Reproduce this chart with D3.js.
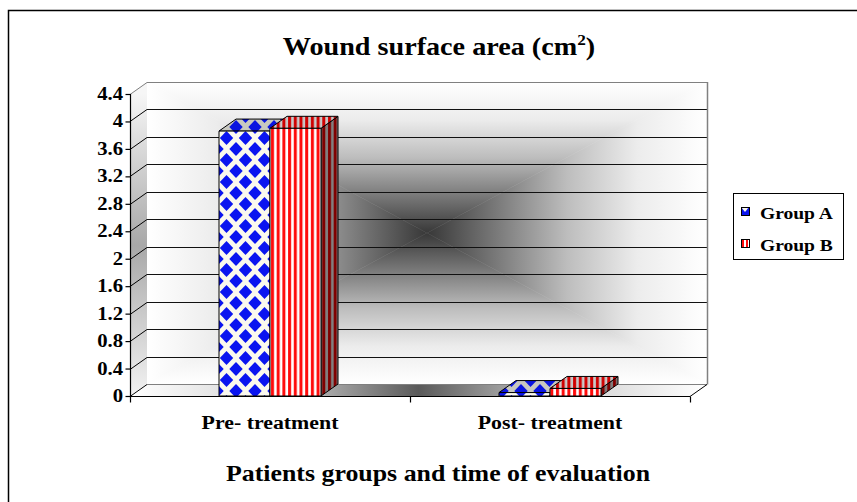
<!DOCTYPE html>
<html lang="en">
<head>
    <meta charset="UTF-8">
    <title>Wound surface area</title>
    <script src="https://d3js.org/d3.v7.min.js"></script>
    <style>
        body { margin: 0; background: #fff; }
        text {
            font-family: "Liberation Serif", "Times New Roman", serif;
            font-weight: bold;
            fill: #000;
        }
    </style>
</head>
<body>
<svg id="chart" width="857" height="502"></svg>

<script>
    // chart data
    const categories = ["Pre- treatment", "Post- treatment"];
    const groups = ["Group A", "Group B"];
    const groupA = [3.86, 0.05];
    const groupB = [3.9, 0.11];
    const yTickValues = [0, 0.4, 0.8, 1.2, 1.6, 2, 2.4, 2.8, 3.2, 3.6, 4, 4.4];
    const yTickLabels = ["0", "0.4", "0.8", "1.2", "1.6", "2", "2.4", "2.8", "3.2", "3.6", "4", "4.4"];

    const svg = d3.select("#chart");
    const defs = svg.append("defs");

    // plot geometry (front plane + depth offset)
    const pLeft = 130, pRight = 690, pBottom = 396, pTop = 94;
    const dx = 17, dy = -12;
    const stretch = 1.15; // text in the original is a bit widened

    const y = d3.scaleLinear().domain([0, 4.4]).range([pBottom, pTop]);
    const x = d3.scaleBand().domain(categories).range([pLeft, pRight]);
    const xg = d3.scaleBand().domain(groups).range([0, 102]);
    const groupOffset = (x.bandwidth() - 102) / 2;

    // outer frame
    svg.append("rect")
        .attr("x", 8.5).attr("y", 10.5)
        .attr("width", 880).attr("height", 520)
        .attr("fill", "#fff").attr("stroke", "#000").attr("stroke-width", 1.5);

    // ---------- gradients ----------
    function linGrad(id, x1, y1, x2, y2, stops) {
        const g = defs.append("linearGradient").attr("id", id)
            .attr("gradientUnits", "userSpaceOnUse")
            .attr("x1", x1).attr("y1", y1).attr("x2", x2).attr("y2", y2);
        stops.forEach(s => g.append("stop").attr("offset", s[0]).attr("stop-color", s[1]));
    }
    const wallStops = [[0, "#383838"], [0.25, "#7a7a7a"], [0.5, "#bdbdbd"], [0.75, "#ececec"], [1, "#ffffff"]];

    // back wall corners
    const bx0 = pLeft + dx, bx1 = pRight + dx, by0 = pTop + dy, by1 = pBottom + dy;
    const cx = (bx0 + bx1) / 2, cy = (by0 + by1) / 2;

    linGrad("gTop", cx, cy, cx, by0, wallStops);
    linGrad("gBot", cx, cy, cx, by1, wallStops);
    linGrad("gLeft", cx, cy, bx0, cy, wallStops);
    linGrad("gRight", cx, cy, bx1, cy, wallStops);

    const wall = svg.append("g");
    const tri = (pts, fill) => wall.append("polygon")
        .attr("points", pts.map(p => p.join(",")).join(" "))
        .attr("fill", fill).attr("stroke", fill).attr("stroke-width", 0.5);
    tri([[bx0, by0], [bx1, by0], [cx, cy]], "url(#gTop)");
    tri([[bx0, by1], [bx1, by1], [cx, cy]], "url(#gBot)");
    tri([[bx0, by0], [bx0, by1], [cx, cy]], "url(#gLeft)");
    tri([[bx1, by0], [bx1, by1], [cx, cy]], "url(#gRight)");

    // left wall
    linGrad("gSide", 0, pTop, 0, pBottom, [[0, "#f6f6f6"], [0.5, "#a8a8a8"], [1, "#f2f2f2"]]);
    svg.append("polygon")
        .attr("points", [[pLeft, pTop], [bx0, by0], [bx0, by1], [pLeft, pBottom]].map(p => p.join(",")).join(" "))
        .attr("fill", "url(#gSide)");

    // floor
    linGrad("gFloor", pLeft, 0, pRight + dx, 0,
        [[0, "#ffffff"], [0.25, "#d4d4d4"], [0.5, "#5a5a5a"], [0.75, "#cfcfcf"], [1, "#ffffff"]]);
    svg.append("polygon")
        .attr("points", [[pLeft, pBottom], [pRight, pBottom], [bx1, by1], [bx0, by1]].map(p => p.join(",")).join(" "))
        .attr("fill", "url(#gFloor)");

    // gridlines
    const grid = svg.append("g").attr("stroke-width", 1).attr("fill", "none");
    yTickValues.forEach(v => {
        const yy = Math.round(y(v)) + 0.5;
        grid.append("line")
            .attr("x1", pLeft).attr("y1", yy).attr("x2", bx0).attr("y2", yy + dy)
            .attr("stroke", v === 4.4 ? "#808080" : "#000");
        grid.append("line")
            .attr("x1", bx0).attr("y1", yy + dy).attr("x2", bx1).attr("y2", yy + dy)
            .attr("stroke", (v === 4.4 || v === 0) ? "#808080" : "#111");
    });
    // back wall right border
    grid.append("line")
        .attr("x1", bx1 + 0.5).attr("y1", Math.round(y(4.4)) + dy)
        .attr("x2", bx1 + 0.5).attr("y2", Math.round(y(0)) + dy + 0.5)
        .attr("stroke", "#808080").attr("stroke-width", 1.5);
    // floor front and right edge
    grid.append("line")
        .attr("x1", pLeft).attr("y1", pBottom + 0.5).attr("x2", pRight).attr("y2", pBottom + 0.5)
        .attr("stroke", "#000");
    grid.append("line")
        .attr("x1", pRight).attr("y1", pBottom + 0.5).attr("x2", bx1).attr("y2", by1 + 0.5)
        .attr("stroke", "#000");

    // ---------- patterns ----------
    function diamondPattern(id, bg, fg, ox, oy) {
        const p = defs.append("pattern").attr("id", id)
            .attr("patternUnits", "userSpaceOnUse")
            .attr("x", ox).attr("y", oy).attr("width", 19).attr("height", 22);
        p.append("rect").attr("width", 19).attr("height", 22).attr("fill", bg);
        const d = (px, py) => p.append("polygon")
            .attr("points", `${px},${py - 7} ${px + 6.7},${py} ${px},${py + 7} ${px - 6.7},${py}`)
            .attr("fill", fg);
        d(9.5, 11); d(0, 0); d(19, 0); d(0, 22); d(19, 22);
    }
    function stripePattern(id, bg, fg, ox) {
        const p = defs.append("pattern").attr("id", id)
            .attr("patternUnits", "userSpaceOnUse")
            .attr("x", ox).attr("y", 0).attr("width", 5.7).attr("height", 10);
        p.append("rect").attr("width", 5.7).attr("height", 10).attr("fill", bg);
        p.append("rect").attr("x", 1).attr("width", 3).attr("height", 10).attr("fill", fg);
    }
    diamondPattern("pA", "#fbf9ee", "#0a14f0", 217, 127);
    diamondPattern("pAtop", "#c8c8c0", "#0a14e0", 217, 127);
    diamondPattern("pAside", "#7c7c7c", "#0a0a80", 217, 127);
    stripePattern("pB", "#ffffff", "#ff0a0a", 270);
    stripePattern("pBtop", "#c8c8c8", "#d00000", 270);
    stripePattern("pBside", "#808080", "#800000", 270);

    const fills = {
        "Group A": { front: "url(#pA)", top: "url(#pAtop)", side: "url(#pAside)" },
        "Group B": { front: "url(#pB)", top: "url(#pBtop)", side: "url(#pBside)" }
    };

    // ---------- bars ----------
    const series = [
        { name: "Group A", values: groupA },
        { name: "Group B", values: groupB }
    ];
    const poly = pts => pts.map(p => p.join(",")).join(" ");
    const bars = svg.append("g").attr("stroke", "#000").attr("stroke-width", 1).attr("stroke-linejoin", "round");

    categories.forEach((c, i) => {
        series.forEach(s => {
            const x0 = x(c) + groupOffset + xg(s.name);
            const x1 = x0 + xg.bandwidth();
            const y0 = y(0), y1 = y(s.values[i]);
            const f = fills[s.name];
            // right side
            bars.append("polygon")
                .attr("points", poly([[x1, y1], [x1 + dx, y1 + dy], [x1 + dx, y0 + dy], [x1, y0]]))
                .attr("fill", f.side);
            // top
            bars.append("polygon")
                .attr("points", poly([[x0, y1], [x0 + dx, y1 + dy], [x1 + dx, y1 + dy], [x1, y1]]))
                .attr("fill", f.top);
            // front
            bars.append("rect")
                .attr("x", x0).attr("y", y1)
                .attr("width", x1 - x0).attr("height", y0 - y1)
                .attr("fill", f.front);
        });
    });

    // ---------- axes ----------
    const yAxis = svg.append("g").attr("transform", `translate(${pLeft + 0.5},0)`)
        .call(d3.axisLeft(y).tickValues(yTickValues).tickSize(5).tickFormat(() => ""));
    yAxis.select(".domain").attr("d", `M0,${pTop}V${pBottom}`).attr("stroke", "#000").attr("stroke-width", 1.2);
    yAxis.selectAll(".tick line").attr("stroke", "#000").attr("stroke-width", 1.2);

    const xAxis = svg.append("g").attr("transform", `translate(0,${pBottom + 0.5})`);
    [pLeft, pLeft + x.bandwidth(), pRight].forEach(px => {
        xAxis.append("line").attr("x1", px + 0.5).attr("x2", px + 0.5)
            .attr("y1", 0).attr("y2", 6).attr("stroke", "#000").attr("stroke-width", 1.2);
    });

    // widened text helper
    function wideText(px, py, str, size, anchor) {
        return svg.append("text")
            .attr("transform", `translate(${px},${py}) scale(${stretch},1)`)
            .attr("text-anchor", anchor)
            .attr("font-size", size)
            .text(str);
    }

    yTickValues.forEach((v, i) => {
        wideText(pLeft - 7, y(v) + 6, yTickLabels[i], 18, "end");
    });
    categories.forEach(c => {
        wideText(x(c) + x.bandwidth() / 2, 429, c, 19, "middle");
    });

    // title with superscript
    const title = svg.append("text")
        .attr("transform", `translate(439,55) scale(${stretch},1)`)
        .attr("text-anchor", "middle")
        .attr("font-size", 24.5);
    title.append("tspan").text("Wound surface area (cm");
    title.append("tspan").attr("dy", -10).attr("font-size", 15).text("2");
    title.append("tspan").attr("dy", 10).text(")");

    wideText(438, 481, "Patients groups and time of evaluation", 22.5, "middle");

    // ---------- legend ----------
    const legend = svg.append("g");
    legend.append("rect")
        .attr("x", 733.5).attr("y", 193.5).attr("width", 110).attr("height", 66)
        .attr("fill", "#fff").attr("stroke", "#000").attr("stroke-width", 1);
    defs.append("pattern").attr("id", "lgA").attr("patternUnits", "userSpaceOnUse")
        .attr("x", 741).attr("y", 207).attr("width", 8).attr("height", 8)
        .call(p => {
            p.append("rect").attr("width", 8).attr("height", 8).attr("fill", "#0a14f0");
            p.append("polygon").attr("points", "0,0 8,0 4,5").attr("fill", "#fbf9ee");
        });
    defs.append("pattern").attr("id", "lgB").attr("patternUnits", "userSpaceOnUse")
        .attr("x", 741).attr("y", 0).attr("width", 4).attr("height", 8)
        .call(p => {
            p.append("rect").attr("width", 4).attr("height", 8).attr("fill", "#fff");
            p.append("rect").attr("x", 1).attr("width", 2).attr("height", 8).attr("fill", "#ff0a0a");
        });
    const legendFill = { "Group A": "url(#lgA)", "Group B": "url(#lgB)" };
    groups.forEach((g, i) => {
        const ly = 219 + i * 32;
        legend.append("rect")
            .attr("x", 741.5).attr("y", ly - 11.5).attr("width", 8).attr("height", 8)
            .attr("fill", legendFill[g]).attr("stroke", "#000").attr("stroke-width", 1);
        wideText(760, ly, g, 17, "start");
    });
</script>
</body>
</html>
